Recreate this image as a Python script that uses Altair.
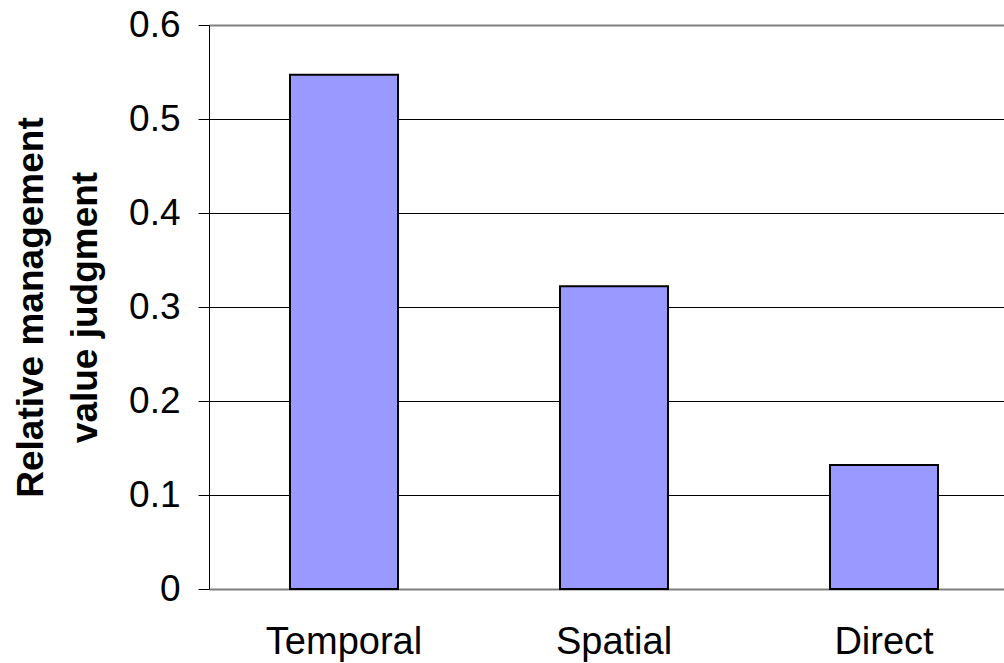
import altair as alt
import pandas as pd

categories = ["Temporal", "Spatial", "Direct"]
values = [0.547, 0.322, 0.132]
y_ticks = [0, 0.1, 0.2, 0.3, 0.4, 0.5, 0.6]

df = pd.DataFrame({"cat": categories, "value": values, "idx": list(range(len(categories)))})

W, H = 795, 564
FONT = "Liberation Sans"
xscale = alt.Scale(domain=[0, W / 270], nice=False, zero=False)
edge = "datum.value > 0.55 || datum.value < 0.05"

base = alt.Chart(df).transform_calculate(
    x0="datum.idx + 0.3", x1="datum.idx + 0.7", mid="datum.idx + 0.5"
)

bars = base.mark_bar(color="#9999ff", stroke="black", strokeWidth=2).encode(
    x=alt.X("x0:Q", scale=xscale,
            axis=alt.Axis(values=[0, 1, 2], labels=False, domain=False, grid=False,
                          ticks=True, tickSize=11, tickColor="black", tickWidth=1, title=None)),
    x2="x1:Q",
    y=alt.Y("value:Q", scale=alt.Scale(domain=[0, 0.6], nice=False),
            axis=alt.Axis(values=y_ticks, format="~g",
                          labelFont=FONT, labelFontSize=37, labelColor="black", labelPadding=18,
                          tickSize=11, tickColor="black", tickWidth=1,
                          domainColor="black", domainWidth=1,
                          grid=True,
                          gridColor={"condition": {"test": edge, "value": "#808080"}, "value": "black"},
                          gridWidth={"condition": {"test": edge, "value": 2}, "value": 1},
                          title=["Relative management", "value judgment"],
                          titleFont=FONT, titleFontSize=37, titleFontWeight="bold", titleColor="black",
                          titleAngle=270, titleX=-167, titleY=H / 2, titleBaseline="alphabetic",
                          titleAlign="center", titleLineHeight=54)),
    y2=alt.datum(0),
)

labels = base.mark_text(font=FONT, fontSize=38, color="black", baseline="alphabetic", align="center").encode(
    x=alt.X("mid:Q", scale=xscale, axis=None),
    y=alt.value(H + 65),
    text="cat:N",
)

chart = alt.layer(bars, labels).properties(
    width=W, height=H,
    autosize=alt.AutoSizeParams(type="none"),
    padding={"left": 209, "top": 25, "right": 0, "bottom": 74},
).configure_view(stroke=None).configure(background="white")

chart.save("out.html", embed_options={"renderer": "svg", "actions": False})
